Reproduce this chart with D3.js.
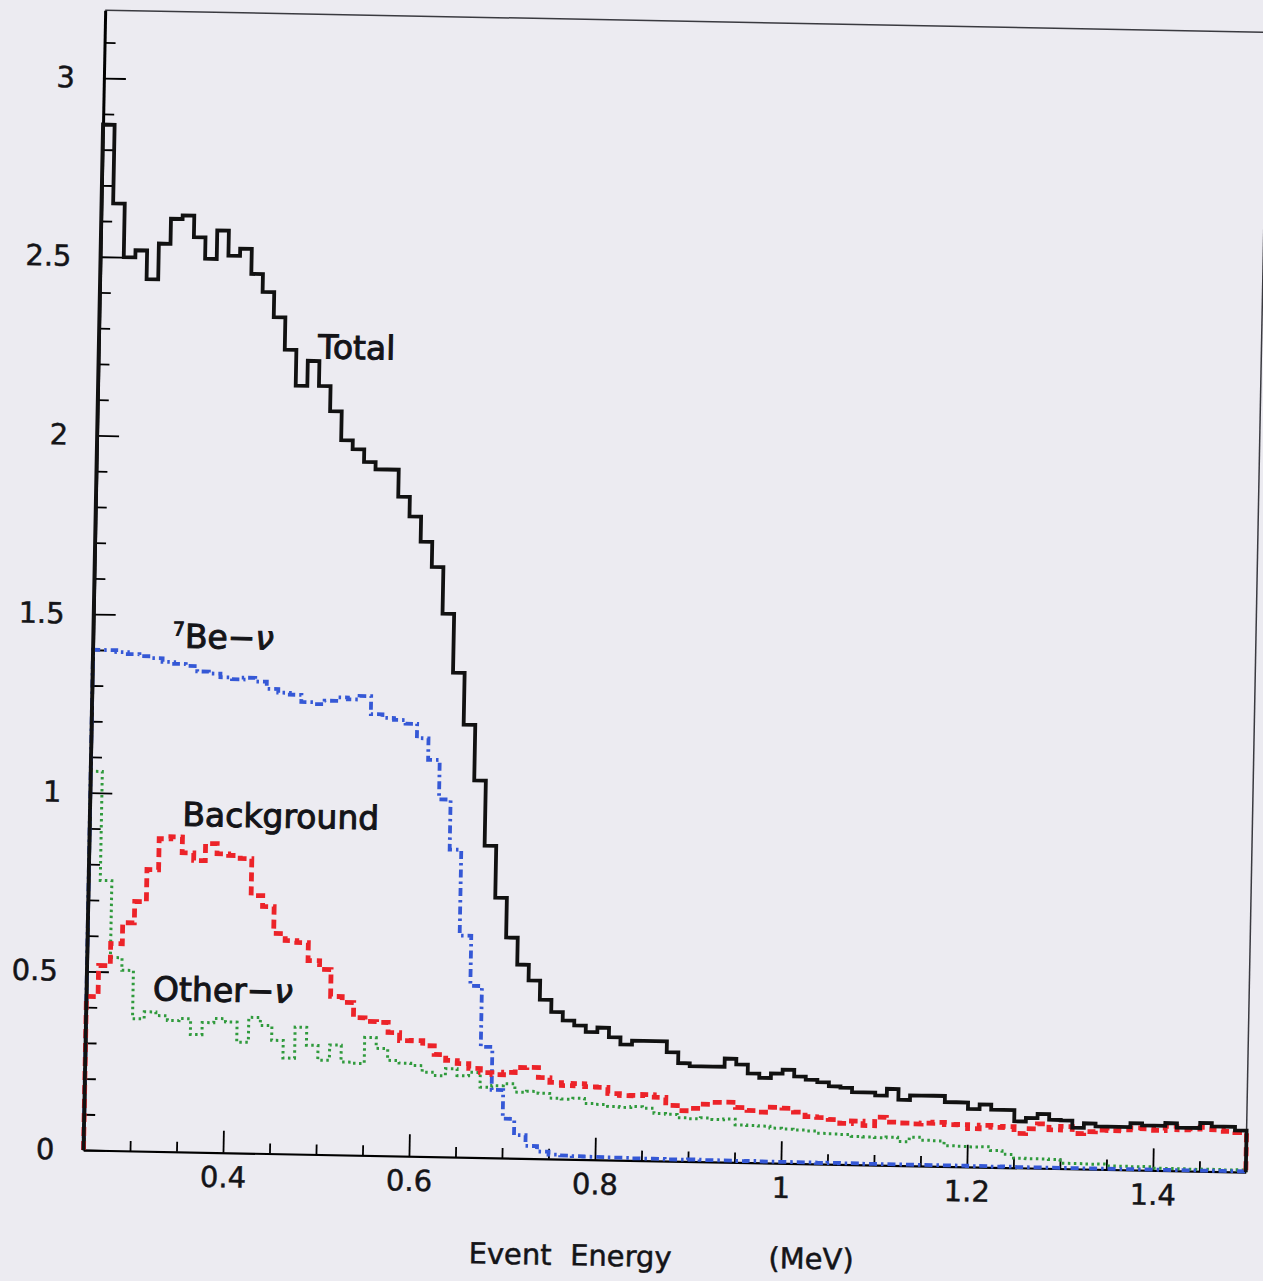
<!DOCTYPE html>
<meta charset="utf-8">
<head>
    <title> Event energy spectrum </title>
    <script src="https://d3js.org/d3.v7.min.js"></script>
    <style>
        body { margin: 0; background: #ecebf1; }
        text { fill: #141418; }
    </style>
</head>
<body>
<div id="my_dataviz"></div>
<script>

// histogram: 100 bins of 0.0125 MeV from 0.25 to 1.5
var binStart = 0.25,
    binWidth = 0.0125;

var total = [2.87, 2.65, 2.50, 2.52, 2.44, 2.54, 2.61, 2.62, 2.56, 2.50,
    2.58, 2.51, 2.53, 2.46, 2.41, 2.34, 2.25, 2.15, 2.22, 2.15,
    2.08, 2.00, 1.975, 1.94, 1.92, 1.92, 1.845, 1.79, 1.72, 1.65,
    1.52, 1.355, 1.21, 1.055, 0.873, 0.728, 0.617, 0.542, 0.498, 0.445,
    0.411, 0.388, 0.375, 0.357, 0.37, 0.344, 0.324, 0.335, 0.335, 0.335,
    0.305, 0.275, 0.267, 0.267, 0.267, 0.29, 0.274, 0.25, 0.238, 0.251,
    0.262, 0.244, 0.235, 0.229, 0.218, 0.215, 0.203, 0.203, 0.195, 0.214,
    0.184, 0.197, 0.197, 0.197, 0.18, 0.18, 0.162, 0.175, 0.161, 0.161,
    0.13, 0.14, 0.152, 0.136, 0.135, 0.115, 0.128, 0.12, 0.12, 0.12,
    0.131, 0.125, 0.125, 0.133, 0.121, 0.121, 0.135, 0.126, 0.126, 0.116];

var be7 = [1.40, 1.40, 1.395, 1.39, 1.385, 1.38, 1.37, 1.365, 1.36, 1.345,
    1.34, 1.33, 1.325, 1.33, 1.32, 1.30, 1.29, 1.285, 1.265, 1.26,
    1.27, 1.28, 1.275, 1.285, 1.235, 1.225, 1.22, 1.21, 1.17, 1.11,
    1.00, 0.86, 0.62, 0.48, 0.31, 0.19, 0.11, 0.065, 0.035, 0.02,
    0.012, 0.01, 0.009, 0.008, 0.008, 0.007, 0.007, 0.006, 0.006, 0.006,
    0.005, 0.005, 0.006, 0.005, 0.005, 0.005, 0.004, 0.005, 0.004, 0.004,
    0.004, 0.004, 0.004, 0.003, 0.004, 0.003, 0.004, 0.003, 0.003, 0.003,
    0.003, 0.003, 0.003, 0.003, 0.003, 0.003, 0.002, 0.003, 0.002, 0.003,
    0.002, 0.002, 0.002, 0.002, 0.002, 0.002, 0.002, 0.002, 0.002, 0.002,
    0.002, 0.002, 0.002, 0.002, 0.002, 0.002, 0.002, 0.002, 0.002, 0.002];

var background = [0.43, 0.517, 0.579, 0.638, 0.698, 0.788, 0.875, 0.881, 0.837, 0.816,
    0.864, 0.836, 0.832, 0.824, 0.721, 0.691, 0.616, 0.597, 0.592, 0.542,
    0.518, 0.443, 0.427, 0.385, 0.375, 0.373, 0.345, 0.323, 0.324, 0.31,
    0.286, 0.27, 0.262, 0.249, 0.238, 0.233, 0.24, 0.254, 0.255, 0.227,
    0.214, 0.206, 0.212, 0.204, 0.203, 0.186, 0.181, 0.182, 0.185, 0.178,
    0.156, 0.142, 0.149, 0.161, 0.167, 0.168, 0.154, 0.146, 0.142, 0.156,
    0.154, 0.144, 0.132, 0.13, 0.125, 0.115, 0.122, 0.11, 0.134, 0.121,
    0.119, 0.117, 0.12, 0.123, 0.117, 0.118, 0.107, 0.117, 0.112, 0.115,
    0.096, 0.11, 0.124, 0.108, 0.118, 0.099, 0.105, 0.11, 0.109, 0.112,
    0.118, 0.116, 0.112, 0.124, 0.115, 0.118, 0.123, 0.117, 0.113, 0.11];

var otherNu = [1.06, 0.755, 0.54, 0.505, 0.37, 0.39, 0.38, 0.367, 0.373, 0.329,
    0.363, 0.375, 0.366, 0.31, 0.38, 0.358, 0.317, 0.268, 0.355, 0.305,
    0.264, 0.307, 0.26, 0.257, 0.33, 0.30, 0.267, 0.26, 0.254, 0.236,
    0.227, 0.247, 0.228, 0.238, 0.197, 0.202, 0.208, 0.185, 0.188, 0.183,
    0.17, 0.168, 0.171, 0.157, 0.155, 0.15, 0.148, 0.151, 0.147, 0.133,
    0.131, 0.122, 0.12, 0.123, 0.119, 0.121, 0.105, 0.104, 0.103, 0.098,
    0.096, 0.094, 0.092, 0.086, 0.085, 0.084, 0.079, 0.078, 0.077, 0.079,
    0.067, 0.08, 0.072, 0.071, 0.058, 0.057, 0.056, 0.057, 0.047, 0.037,
    0.027, 0.026, 0.026, 0.025, 0.015, 0.015, 0.014, 0.015, 0.01, 0.01,
    0.009, 0.01, 0.006, 0.006, 0.006, 0.005, 0.006, 0.006, 0.005, 0.006];

// ticks
var xMajor = [0.4, 0.6, 0.8, 1.0, 1.2, 1.4];
var xMinor = [0.3, 0.35, 0.45, 0.5, 0.55, 0.65, 0.7, 0.75, 0.85, 0.9, 0.95,
    1.05, 1.1, 1.15, 1.25, 1.3, 1.35, 1.45];
var yMajor = [0, 0.5, 1, 1.5, 2, 2.5, 3];
var yMinor = [0.1, 0.2, 0.3, 0.4, 0.6, 0.7, 0.8, 0.9, 1.1, 1.2, 1.3, 1.4,
    1.6, 1.7, 1.8, 1.9, 2.1, 2.2, 2.3, 2.4, 2.6, 2.7, 2.8, 2.9, 3.1];

var width = 1263, height = 1281;
var plotLeft = 83.5, plotRight = 1246, plotTop = 10, plotBottom = 1150;
var font = "DejaVu Sans, Verdana, sans-serif";

var svg = d3.select("#my_dataviz")
    .append("svg")
    .attr("width", width)
    .attr("height", height);

svg.append("rect")
    .attr("width", width).attr("height", height)
    .attr("fill", "#ecebf1");

// the scanned page sits about a degree off square
var g = svg.append("g")
    .attr("transform", "rotate(1.09," + plotLeft + "," + plotBottom + ")");

var x = d3.scaleLinear()
    .domain([0.25, 1.5])
    .range([plotLeft, plotRight]);

var y = d3.scaleLinear()
    .domain([0, 3.19])
    .range([plotBottom, plotTop]);

// frame top and right
g.append("line")
    .attr("x1", plotLeft).attr("x2", plotRight)
    .attr("y1", plotTop).attr("y2", plotTop)
    .attr("stroke", "#3a3a40").attr("stroke-width", 1.5);
g.append("line")
    .attr("x1", plotRight).attr("x2", plotRight)
    .attr("y1", plotTop).attr("y2", plotBottom)
    .attr("stroke", "#3a3a40").attr("stroke-width", 1.5);

// Y axis, ticks pointing inward
g.append("g")
    .attr("transform", "translate(" + plotLeft + ",0)")
    .call(d3.axisLeft(y).tickValues(yMinor).tickSize(-11).tickSizeOuter(0).tickFormat(""))
    .call(function(a) { a.select(".domain").remove(); });
var yAxis = g.append("g")
    .attr("transform", "translate(" + plotLeft + ",0)")
    .call(d3.axisLeft(y).tickValues(yMajor).tickSize(-22).tickSizeOuter(0)
        .tickPadding(29).tickFormat(d3.format("")))
    .attr("font-family", font)
    .attr("font-size", 29);
yAxis.select(".domain").attr("stroke-width", 3);

// X axis
g.append("g")
    .attr("transform", "translate(0," + plotBottom + ")")
    .call(d3.axisBottom(x).tickValues(xMinor).tickSize(-10).tickSizeOuter(0).tickFormat(""))
    .call(function(a) { a.select(".domain").remove(); });
var xAxis = g.append("g")
    .attr("transform", "translate(0," + plotBottom + ")")
    .call(d3.axisBottom(x).tickValues(xMajor).tickSize(-22).tickSizeOuter(0)
        .tickPadding(14).tickFormat(d3.format("")))
    .attr("font-family", font)
    .attr("font-size", 29);
xAxis.select(".domain").attr("stroke-width", 2.2);
g.selectAll(".tick line").attr("stroke-width", 1.8);
g.selectAll(".tick text").attr("stroke", "#141418").attr("stroke-width", 0.5);

// X axis label
g.append("text")
    .attr("x", 572).attr("y", 1256)
    .attr("text-anchor", "middle")
    .attr("font-family", font).attr("font-size", 29)
    .attr("stroke", "#141418").attr("stroke-width", 0.5)
    .style("white-space", "pre")
    .text("Event  Energy");
g.append("text")
    .attr("x", 813).attr("y", 1255)
    .attr("text-anchor", "middle")
    .attr("font-family", font).attr("font-size", 29)
    .attr("stroke", "#141418").attr("stroke-width", 0.5)
    .text("(MeV)");

// histogram outline incl. the drop to zero at both ends
function steps(values) {
    var pts = [[binStart, 0]];
    values.forEach(function(v, i) { pts.push([binStart + i * binWidth, v]); });
    var end = binStart + values.length * binWidth;
    pts.push([end, values[values.length - 1]]);
    pts.push([end, 0]);
    return pts;
}

var line = d3.line()
    .x(function(d) { return x(d[0]); })
    .y(function(d) { return y(d[1]); })
    .curve(d3.curveStepAfter);

var series = [
    {values: otherNu, color: "#2f9a3c", width: 3, dash: "2.5,3.5"},
    {values: be7, color: "#3558d6", width: 3.8, dash: "8,4,2.5,4"},
    {values: background, color: "#ec2329", width: 4.8, dash: "9,5"},
    {values: total, color: "#111111", width: 3.8, dash: null}
];

series.forEach(function(s) {
    g.append("path")
        .datum(steps(s.values))
        .attr("fill", "none")
        .attr("stroke", s.color)
        .attr("stroke-width", s.width)
        .attr("stroke-dasharray", s.dash)
        .attr("stroke-linejoin", "miter")
        .attr("d", line);
});

// curve labels, regular face thickened a little like the print
var labelSize = 33;
function label(sel) {
    return sel.attr("font-family", font).attr("font-size", labelSize)
        .attr("stroke", "#141418").attr("stroke-width", 1);
}

label(g.append("text").attr("x", 303).attr("y", 354)).text("Total");

var beLabel = label(g.append("text").attr("x", 163).attr("y", 646));
beLabel.append("tspan").attr("font-size", 19).attr("dy", -12).text("7");
beLabel.append("tspan").attr("dy", 12).text("Be\u2212");
beLabel.append("tspan").attr("font-style", "italic").text("\u03bd");

label(g.append("text").attr("x", 176).attr("y", 824)).text("Background");

var otherLabel = label(g.append("text").attr("x", 150).attr("y", 999));
otherLabel.append("tspan").text("Other\u2212");
otherLabel.append("tspan").attr("font-style", "italic").text("\u03bd");

</script>
</body>
</html>
